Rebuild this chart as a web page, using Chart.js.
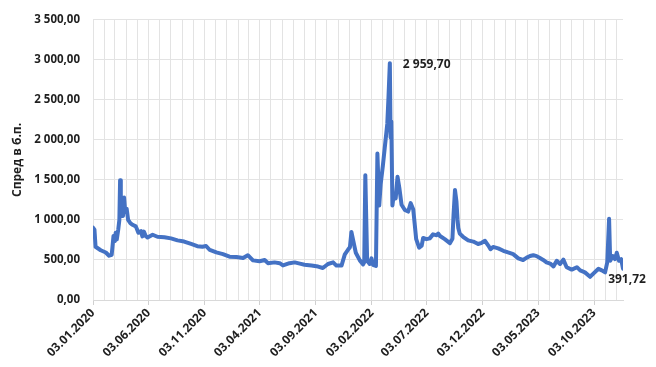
<!DOCTYPE html>
<html>
<head>
<meta charset="utf-8">
<script src="https://cdn.jsdelivr.net/npm/chart.js@4.4.1/dist/chart.umd.min.js"></script>
<style>
  html, body { margin: 0; padding: 0; background: #ffffff; }
  #wrap { width: 656px; height: 367px; }
</style>
</head>
<body>
<div id="wrap"><canvas id="chart" width="656" height="367"></canvas></div>
<script>
// Observation dates of the spread series
const dates = [
  '2020-01-03','2020-01-07','2020-01-10','2020-01-24','2020-02-07','2020-02-16','2020-02-23','2020-02-25',
  '2020-02-28','2020-03-03','2020-03-05','2020-03-08','2020-03-12','2020-03-15','2020-03-17','2020-03-19',
  '2020-03-22','2020-03-25','2020-03-28','2020-03-31','2020-04-04','2020-04-08','2020-04-14','2020-04-20',
  '2020-04-29','2020-05-06','2020-05-13','2020-05-17','2020-05-21','2020-05-26','2020-05-31','2020-06-14',
  '2020-06-27','2020-07-16','2020-08-03','2020-08-21','2020-09-08','2020-09-27','2020-10-14','2020-10-28',
  '2020-11-07','2020-11-17','2020-12-05','2020-12-23','2021-01-10','2021-01-29','2021-02-16','2021-03-01',
  '2021-03-15','2021-04-02','2021-04-16','2021-04-25','2021-05-13','2021-05-27','2021-06-05','2021-06-23',
  '2021-07-07','2021-07-21','2021-08-03','2021-08-22','2021-09-09','2021-09-22','2021-10-06','2021-10-20',
  '2021-10-29','2021-11-12','2021-11-21','2021-11-30','2021-12-05','2021-12-09','2021-12-14','2021-12-21',
  '2022-01-01','2022-01-10','2022-01-13','2022-01-16','2022-01-21','2022-01-28','2022-02-02','2022-02-06',
  '2022-02-14','2022-02-18','2022-02-23','2022-02-27','2022-03-05','2022-03-10','2022-03-17','2022-03-20',
  '2022-03-24','2022-03-26','2022-03-28','2022-03-31','2022-04-04','2022-04-09','2022-04-14','2022-04-19',
  '2022-04-25','2022-05-04','2022-05-13','2022-05-20','2022-05-27','2022-06-04','2022-06-12','2022-06-19',
  '2022-06-23','2022-07-02','2022-07-11','2022-07-20','2022-07-30','2022-08-03','2022-08-08','2022-08-21',
  '2022-09-04','2022-09-11','2022-09-14','2022-09-18','2022-09-22','2022-09-25','2022-09-27','2022-10-01',
  '2022-10-10','2022-10-24','2022-11-07','2022-11-20','2022-11-30','2022-12-09','2022-12-18','2022-12-24',
  '2022-12-31','2023-01-14','2023-01-28','2023-02-10','2023-02-24','2023-03-10','2023-03-23','2023-04-02',
  '2023-04-11','2023-04-20','2023-04-29','2023-05-08','2023-05-17','2023-05-26','2023-06-05','2023-06-14',
  '2023-06-23','2023-07-02','2023-07-11','2023-07-20','2023-08-03','2023-08-17','2023-08-26','2023-09-08',
  '2023-09-22','2023-10-01','2023-10-15','2023-10-24','2023-11-02','2023-11-08','2023-11-13','2023-11-16',
  '2023-11-23','2023-11-29','2023-12-04','2023-12-10','2023-12-16','2023-12-21'
];

// Spread, basis points
const spread = [
  905, 880, 665, 622, 594, 553, 565, 655,
  800, 737, 840, 758, 880, 1000, 1495, 1050,
  1230, 1050, 1280, 1100, 1140, 1000, 960, 940,
  920, 840, 860, 795, 855, 800, 780, 815,
  790, 785, 770, 745, 730, 700, 672, 665,
  675, 625, 595, 573, 541, 538, 525, 560,
  495, 485, 500, 460, 470, 460, 432, 460,
  470, 455, 440, 430, 418, 400, 450, 470,
  430, 430, 570, 630, 660, 850, 740, 590,
  495, 445, 470, 1560, 490, 450, 520, 440,
  425, 1830, 1180, 1450, 1680, 1900, 2200, 2500,
  2959.70, 2030, 2230, 1180, 1330, 1270, 1540, 1400,
  1190, 1125, 1105, 1210, 1130, 760, 655, 680,
  775, 760, 770, 820, 810, 830, 800, 760,
  710, 765, 1060, 1375, 1230, 1000, 900, 830,
  790, 745, 730, 700, 715, 740, 680, 635,
  663, 645, 615, 594, 573, 520, 500, 530,
  550, 560, 548, 524, 500, 470, 455, 420,
  490, 450, 505, 410, 380, 410, 370, 345,
  290, 330, 390, 370, 345, 470, 1015, 490,
  550, 510, 590, 490, 510, 391.72
];

// Dates carrying a label on the horizontal axis
const tickLabels = [
  '03.01.2020','03.06.2020','03.11.2020','03.04.2021','03.09.2021',
  '03.02.2022','03.07.2022','03.12.2022','03.05.2023','03.10.2023'
];

const yMin = 0, yMax = 3500, yStep = 500;

const DAY = 86400000;
const t0 = Date.parse(dates[0]);
const dayOf = s => Math.round((Date.parse(s) - t0) / DAY);
const dayOfRu = s => { const [d, m, y] = s.split('.'); return dayOf(`${y}-${m}-${d}`); };

// Monthly grid: the 3rd of every month across the series
const monthTicks = [];
{
  const last = Date.parse(dates[dates.length - 1]);
  for (let y = 2020, m = 0; ; m++) {
    if (m > 11) { m = 0; y++; }
    const t = Date.UTC(y, m, 3);
    if (t > last) break;
    monthTicks.push(Math.round((t - t0) / DAY));
  }
}
const labelAt = new Map(tickLabels.map(l => [dayOfRu(l), l]));

// 3 500,00 style numbers
function fmt(v) {
  const [i, f] = Math.abs(v).toFixed(2).split('.');
  return (v < 0 ? '-' : '') + i.replace(/\B(?=(\d{3})+(?!\d))/g, ' ') + ',' + f;
}

const FONT = '"Open Sans", "Liberation Sans", sans-serif';
const TEXT = '#1f1f1f';

// Value labels on the maximum and on the last observation
const valueLabels = {
  id: 'valueLabels',
  afterDatasetsDraw(chart) {
    const meta = chart.getDatasetMeta(0);
    let iMax = 0;
    spread.forEach((v, i) => { if (v > spread[iMax]) iMax = i; });
    const iLast = spread.length - 1;
    const c = chart.ctx;
    c.save();
    c.font = `bold 12px ${FONT}`;
    c.fillStyle = TEXT;
    c.textBaseline = 'middle';
    const pMax = meta.data[iMax];
    c.textAlign = 'left';
    c.fillText(fmt(spread[iMax]), pMax.x + 13, pMax.y + 1);
    const pLast = meta.data[iLast];
    c.textAlign = 'center';
    c.fillText(fmt(spread[iLast]), pLast.x + 4, pLast.y + 11);
    c.restore();
  }
};

new Chart(document.getElementById('chart'), {
  type: 'line',
  data: {
    datasets: [{
      data: dates.map((d, i) => ({ x: dayOf(d), y: spread[i] })),
      borderColor: '#4472C4',
      borderWidth: 4,
      pointRadius: 0,
      tension: 0,
      borderJoinStyle: 'round',
      borderCapStyle: 'round'
    }]
  },
  options: {
    responsive: false,
    animation: false,
    devicePixelRatio: 1,
    layout: { padding: { top: 15, right: 33, left: 0, bottom: 0 } },
    plugins: { legend: { display: false }, tooltip: { enabled: false } },
    scales: {
      x: {
        type: 'linear',
        min: 0,
        max: dayOf(dates[dates.length - 1]),
        afterBuildTicks: s => { s.ticks = monthTicks.map(v => ({ value: v })); },
        afterFit: s => { s.height = 67; },
        ticks: {
          autoSkip: false,
          minRotation: 45,
          maxRotation: 45,
          padding: 1,
          color: TEXT,
          font: { family: FONT, size: 12, weight: 'bold' },
          callback: v => labelAt.get(v) || ''
        },
        grid: {
          color: '#e3e3e3',
          lineWidth: 1,
          drawTicks: true,
          tickLength: 5,
          tickColor: ctx => (ctx.tick && labelAt.has(ctx.tick.value)) ? '#d0d0d0' : 'rgba(0,0,0,0)'
        },
        border: { display: true, color: '#d9d9d9', width: 1 }
      },
      y: {
        min: yMin,
        max: yMax,
        afterFit: s => { s.width = 93; },
        ticks: {
          stepSize: yStep,
          padding: 13,
          color: TEXT,
          font: { family: FONT, size: 11.5, weight: 'bold' },
          callback: v => fmt(v)
        },
        grid: { color: '#e3e3e3', lineWidth: 1, drawTicks: false },
        border: { display: false },
        title: {
          display: true,
          text: 'Спред в б.п.',
          color: TEXT,
          font: { family: FONT, size: 12, weight: 'bold' },
          padding: { top: 10, bottom: 0 }
        }
      }
    }
  },
  plugins: [valueLabels]
});
</script>
</body>
</html>
